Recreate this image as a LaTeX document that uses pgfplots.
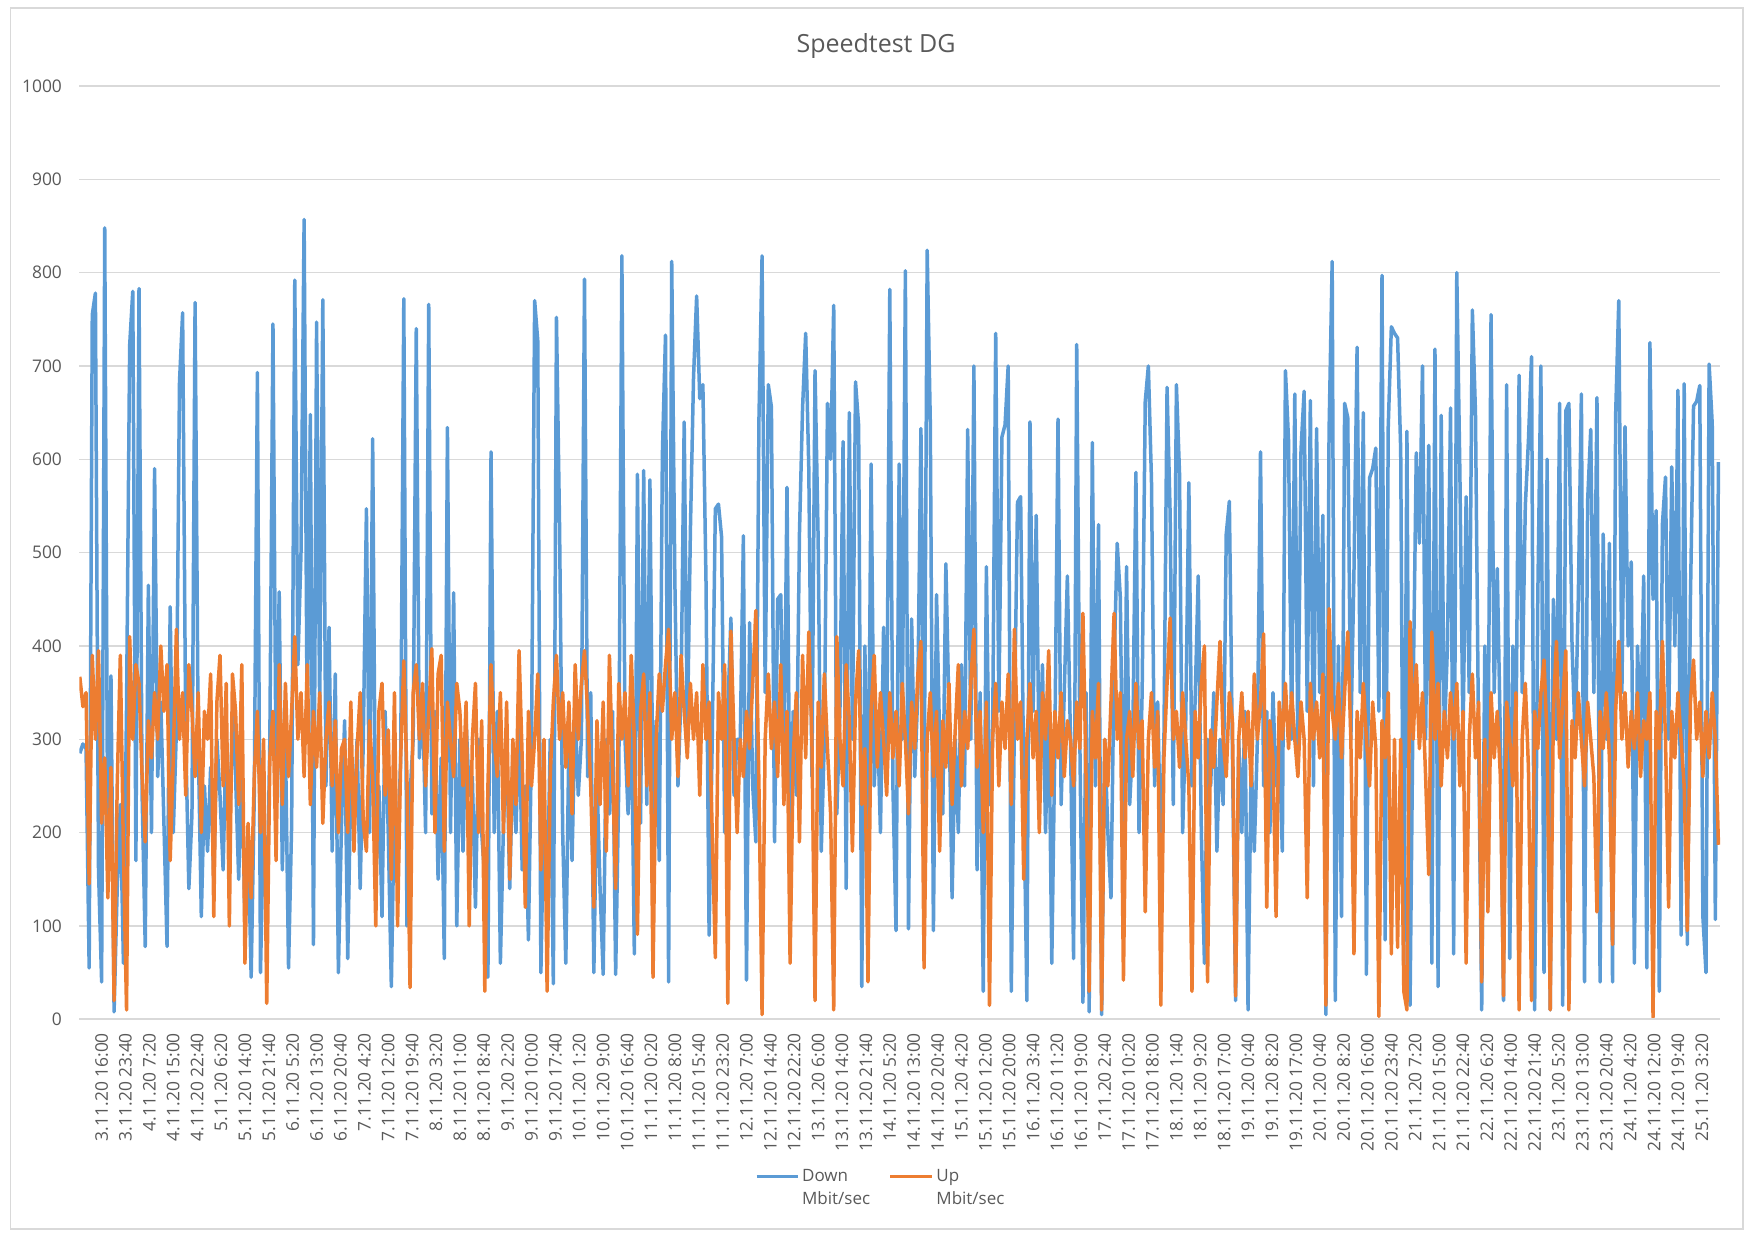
\documentclass[border=0pt]{standalone}
\usepackage{pgfplots}
\pgfplotsset{compat=1.18}
\usepackage{pgfplotstable}
\usepackage{fontspec}
\setmainfont{Open Sans}
\definecolor{xblue}{HTML}{5B9BD5}
\definecolor{xorange}{HTML}{ED7D31}
\definecolor{xgrid}{HTML}{D9D9D9}
\definecolor{xtext}{HTML}{595959}

% d = Down Mbit/sec, u = Up Mbit/sec (every third 20-minute sample)
\pgfplotstableread[row sep=\\]{
d u\\
285 367\\ 295 335\\ 290 350\\ 55 145\\ 755 390\\ 778 300\\ 160 395\\ 40 210\\ 848 280\\ 150 130\\
368 270\\ 8 20\\ 140 250\\ 230 390\\ 60 180\\ 335 10\\ 722 410\\ 780 300\\ 170 380\\ 783 360\\
240 260\\ 78 190\\ 465 320\\ 200 280\\ 590 350\\ 260 300\\ 340 400\\ 210 330\\ 78 380\\ 442 170\\
200 280\\ 310 418\\ 683 300\\ 757 350\\ 300 240\\ 140 380\\ 220 330\\ 768 260\\ 300 350\\ 110 200\\
250 330\\ 180 300\\ 270 370\\ 150 110\\ 300 340\\ 240 390\\ 160 250\\ 310 360\\ 180 100\\ 330 370\\
260 330\\ 150 230\\ 280 380\\ 100 60\\ 200 210\\ 45 130\\ 240 260\\ 693 330\\ 50 200\\ 220 300\\
100 17\\ 300 280\\ 745 330\\ 250 170\\ 458 380\\ 160 230\\ 300 360\\ 55 260\\ 210 330\\ 792 410\\
380 300\\ 500 350\\ 857 260\\ 300 380\\ 648 230\\ 80 330\\ 747 270\\ 330 350\\ 771 210\\ 250 300\\
420 340\\ 180 250\\ 370 320\\ 50 200\\ 210 290\\ 320 300\\ 65 200\\ 260 340\\ 200 180\\ 300 290\\
140 350\\ 300 210\\ 547 180\\ 200 320\\ 622 260\\ 150 100\\ 250 330\\ 110 360\\ 330 240\\ 200 310\\
35 150\\ 240 350\\ 180 100\\ 280 280\\ 772 384\\ 100 260\\
240 34\\ 300 350\\ 740 380\\ 280 300\\ 350 360\\ 200 250\\ 766 330\\ 220 397\\ 330 200\\ 150 370\\
280 390\\ 65 180\\ 634 340\\ 200 300\\ 457 260\\ 100 360\\ 300 330\\ 180 250\\ 320 340\\ 240 100\\
260 300\\ 120 360\\ 300 200\\ 200 320\\ 150 30\\ 45 250\\ 608 380\\ 200 300\\ 330 260\\ 60 350\\
210 200\\ 300 340\\ 140 150\\ 280 300\\ 200 230\\ 330 395\\ 160 280\\ 250 120\\ 85 330\\ 300 250\\
770 300\\ 727 370\\ 50 160\\ 230 300\\ 120 30\\ 300 260\\ 38 340\\ 752 390\\ 527 300\\ 200 350\\
60 270\\ 300 340\\ 170 220\\ 330 380\\ 240 300\\ 300 360\\ 793 395\\ 260 330\\ 350 250\\ 50 120\\
260 320\\ 140 230\\ 48 340\\ 300 180\\ 220 390\\ 330 270\\ 48 140\\ 250 360\\ 818 300\\ 300 350\\
220 250\\ 340 390\\ 70 300\\ 584 91\\ 210 330\\ 588 370\\ 230 250\\ 578 350\\ 220 45\\ 320 300\\
170 370\\ 605 330\\ 733 380\\ 40 418\\ 812 300\\ 472 350\\ 250 260\\ 350 390\\ 640 330\\ 300 280\\
525 360\\ 688 300\\ 775 350\\ 665 240\\ 680 380\\ 470 300\\ 90 340\\ 300 200\\ 547 66\\ 552 350\\
517 300\\ 200 380\\ 330 17\\ 430 416\\ 240 300\\ 300 200\\
300 300\\ 518 260\\ 42 330\\ 425 290\\ 250 360\\ 190 438\\ 643 250\\ 818 5\\ 350 300\\ 680 370\\
656 290\\ 190 340\\ 450 260\\ 455 380\\ 250 230\\ 570 330\\ 180 60\\ 330 280\\ 240 350\\ 520 190\\
655 390\\ 735 280\\ 590 415\\ 260 300\\ 695 20\\ 515 340\\ 180 270\\ 300 370\\ 660 290\\ 600 220\\
765 10\\ 220 410\\ 330 300\\ 619 250\\ 140 380\\ 650 320\\ 300 180\\ 683 340\\ 636 395\\ 35 230\\
400 290\\ 170 40\\ 595 330\\ 250 390\\ 330 270\\ 200 350\\ 420 300\\ 280 240\\ 782 350\\ 250 280\\
95 330\\ 595 250\\ 300 360\\ 802 300\\ 97 220\\ 429 340\\ 260 290\\ 350 370\\ 633 405\\ 210 55\\
824 300\\ 640 350\\ 95 260\\ 455 330\\ 300 180\\ 220 320\\ 488 270\\ 330 360\\ 130 230\\ 300 310\\
200 380\\ 380 250\\ 250 330\\ 632 290\\ 300 360\\ 700 418\\ 160 270\\ 350 330\\ 30 200\\ 485 340\\
230 15\\ 300 300\\ 735 360\\ 330 250\\ 624 340\\ 637 290\\ 700 370\\ 30 230\\ 320 418\\ 554 300\\
560 340\\ 250 150\\ 20 300\\ 640 360\\ 330 280\\ 540 330\\ 250 200\\ 380 350\\ 200 300\\ 350 395\\
60 240\\ 300 330\\ 643 280\\ 230 350\\ 350 260\\ 475 320\\
300 300\\ 65 250\\ 723 340\\ 300 290\\ 18 435\\ 350 260\\ 8 30\\ 618 330\\ 250 280\\ 530 360\\
5 10\\ 300 300\\ 200 250\\ 130 340\\ 380 435\\ 510 300\\ 452 350\\ 160 42\\ 485 300\\ 230 330\\
300 260\\ 586 360\\ 200 290\\ 350 320\\ 662 115\\ 700 300\\ 577 350\\ 250 270\\ 340 330\\ 180 15\\
300 280\\ 677 360\\ 540 430\\ 230 300\\ 680 330\\ 585 270\\ 200 350\\ 320 300\\ 575 250\\ 250 30\\
340 330\\ 475 280\\ 200 360\\ 60 400\\ 300 40\\ 250 310\\ 350 270\\ 180 340\\ 300 405\\ 230 300\\
520 260\\ 555 350\\ 280 320\\ 20 25\\ 300 300\\ 200 350\\ 330 280\\ 10 330\\ 280 250\\ 180 370\\
300 300\\ 608 340\\ 250 413\\ 330 120\\ 200 320\\ 350 280\\ 250 110\\ 300 340\\ 180 300\\ 695 360\\
620 290\\ 300 350\\ 670 300\\ 280 260\\ 610 340\\ 673 300\\ 330 130\\ 663 360\\ 250 300\\ 633 340\\
350 280\\ 540 370\\ 5 15\\ 629 440\\ 812 330\\ 20 300\\ 400 360\\ 110 280\\ 660 350\\ 645 415\\
300 300\\ 480 70\\ 720 330\\ 350 280\\ 650 360\\ 48 300\\ 580 250\\ 590 340\\ 612 290\\ 330 3\\
797 320\\ 85 280\\ 635 350\\ 742 70\\ 735 300\\
730 77\\ 610 300\\ 50 30\\ 630 10\\ 15 426\\ 350 300\\ 607 380\\ 510 290\\ 700 350\\ 300 260\\
615 155\\ 60 415\\ 718 300\\ 35 360\\ 647 250\\ 300 330\\ 400 280\\ 655 350\\ 70 300\\ 800 360\\
585 250\\ 300 330\\ 560 60\\ 350 300\\ 760 370\\ 650 280\\ 300 340\\ 10 40\\ 400 300\\ 250 115\\
755 350\\ 350 280\\ 483 330\\ 300 260\\ 20 25\\ 680 340\\ 65 300\\ 400 250\\ 300 350\\ 690 10\\
350 300\\ 550 360\\ 620 270\\ 710 20\\ 10 330\\ 450 290\\ 700 350\\ 50 385\\ 600 300\\ 10 10\\
450 330\\ 300 405\\ 660 280\\ 15 340\\ 652 395\\ 660 10\\ 400 320\\ 300 280\\ 450 350\\ 670 300\\
40 250\\ 555 340\\ 632 300\\ 350 260\\ 666 115\\ 40 330\\ 520 290\\ 300 350\\ 510 280\\ 40 80\\
648 330\\ 770 405\\ 350 300\\ 635 350\\ 400 270\\ 490 330\\ 60 290\\ 400 350\\ 300 260\\ 475 320\\
55 300\\ 725 350\\ 450 2\\ 545 330\\ 30 290\\ 530 405\\ 581 300\\ 300 120\\ 592 330\\ 400 280\\
674 350\\ 90 300\\ 681 250\\ 80 95\\ 450 340\\ 657 385\\ 662 300\\ 679 340\\ 110 260\\ 50 330\\
702 280\\ 638 350\\ 107 300\\ 597 187\\
}\speed

\begin{document}
\begin{tikzpicture}
\path[use as bounding box] (-39.65pt,-110.35pt) rectangle (837.35pt,509.65pt);
\draw[xgrid, line width=0.8pt] (-34.3pt,-104.85pt) rectangle (831.85pt,505.65pt);
\begin{axis}[
  at={(0pt,0pt)}, anchor=south west, scale only axis,
  width=820.35pt, height=466.65pt,
  xmin=-0.5, xmax=1579.5, ymin=0, ymax=1000,
  ytick={0,100,...,1000},
  xtick={21,44,...,1562},
  xticklabels={3.11.20 16:00, 3.11.20 23:40, 4.11.20 7:20, 4.11.20 15:00, 4.11.20 22:40, 5.11.20 6:20, 5.11.20 14:00, 5.11.20 21:40, 6.11.20 5:20, 6.11.20 13:00, 6.11.20 20:40, 7.11.20 4:20, 7.11.20 12:00, 7.11.20 19:40, 8.11.20 3:20, 8.11.20 11:00, 8.11.20 18:40, 9.11.20 2:20, 9.11.20 10:00, 9.11.20 17:40, 10.11.20 1:20, 10.11.20 9:00, 10.11.20 16:40, 11.11.20 0:20, 11.11.20 8:00, 11.11.20 15:40, 11.11.20 23:20, 12.11.20 7:00, 12.11.20 14:40, 12.11.20 22:20, 13.11.20 6:00, 13.11.20 14:00, 13.11.20 21:40, 14.11.20 5:20, 14.11.20 13:00, 14.11.20 20:40, 15.11.20 4:20, 15.11.20 12:00, 15.11.20 20:00, 16.11.20 3:40, 16.11.20 11:20, 16.11.20 19:00, 17.11.20 2:40, 17.11.20 10:20, 17.11.20 18:00, 18.11.20 1:40, 18.11.20 9:20, 18.11.20 17:00, 19.11.20 0:40, 19.11.20 8:20, 19.11.20 17:00, 20.11.20 0:40, 20.11.20 8:20, 20.11.20 16:00, 20.11.20 23:40, 21.11.20 7:20, 21.11.20 15:00, 21.11.20 22:40, 22.11.20 6:20, 22.11.20 14:00, 22.11.20 21:40, 23.11.20 5:20, 23.11.20 13:00, 23.11.20 20:40, 24.11.20 4:20, 24.11.20 12:00, 24.11.20 19:40, 25.11.20 3:20},
  axis line style={draw=none},
  tick style={draw=none},
  ymajorgrids, grid style={xgrid, line width=0.8pt},
  tick label style={font=\fontsize{8.7}{10}\selectfont, text=xtext},
  xticklabel style={rotate=90, anchor=east, inner sep=0pt},
  yticklabel style={anchor=east, inner sep=0pt},
  xticklabel shift=6.7pt, yticklabel shift=8.5pt,
  /pgf/number format/assume math mode=true,
  /pgf/number format/1000 sep={},
]
\addplot[xblue, line width=1.75pt, line join=round] table[x expr=\coordindex*3, y=d]{\speed};
\addplot[xorange, line width=1.75pt, line join=round] table[x expr=\coordindex*3, y=u]{\speed};
\draw[xgrid, line width=0.9pt] (rel axis cs:0,0) -- (rel axis cs:1,0);
\end{axis}
\node[anchor=base, font=\fontsize{12.5}{15}\selectfont, text=xtext] at (398.35pt,483.5pt) {Speedtest DG};
\draw[xblue, line width=1.6pt] (338.7pt,-78.7pt) -- (359.5pt,-78.7pt);
\node[anchor=base west, inner sep=0pt, font=\fontsize{8.5}{10}\selectfont, text=xtext] at (361.2pt,-81.35pt) {Down};
\node[anchor=base west, inner sep=0pt, font=\fontsize{8.5}{10}\selectfont, text=xtext] at (361.2pt,-92.85pt) {Mbit/sec};
\draw[xorange, line width=1.6pt] (405.35pt,-78.7pt) -- (426.2pt,-78.7pt);
\node[anchor=base west, inner sep=0pt, font=\fontsize{8.5}{10}\selectfont, text=xtext] at (428.35pt,-81.35pt) {Up};
\node[anchor=base west, inner sep=0pt, font=\fontsize{8.5}{10}\selectfont, text=xtext] at (428.35pt,-92.85pt) {Mbit/sec};
\end{tikzpicture}
\end{document}
